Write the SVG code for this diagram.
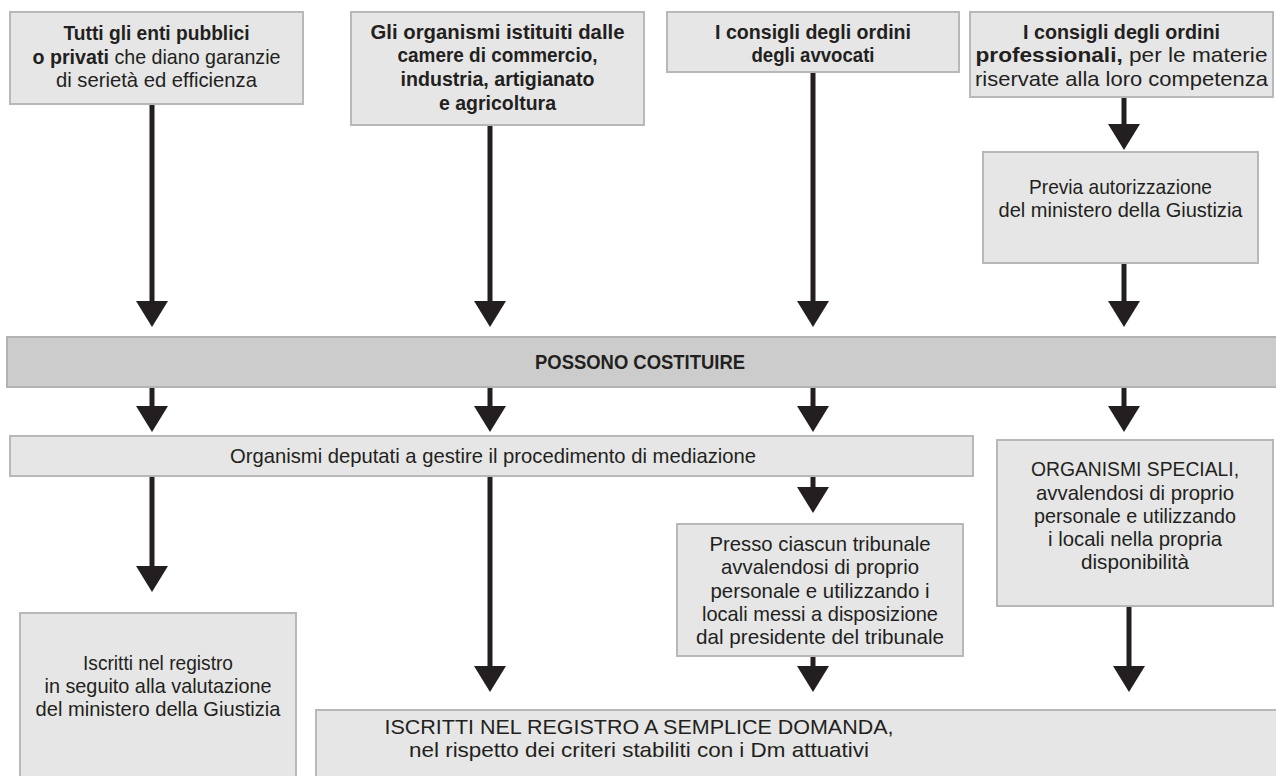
<svg xmlns="http://www.w3.org/2000/svg" width="1276" height="776" viewBox="0 0 1276 776">
<defs>
<style>
.box{fill:#e6e6e6;stroke:#b8b8b9;stroke-width:2}
.bar{fill:#cccccc;stroke:#b3b3b3;stroke-width:2}
.t{font-family:"Liberation Sans",Arial,sans-serif;font-size:21px;fill:#231f20;text-anchor:middle}
.b{font-weight:bold}
.c{stroke:#231f20;stroke-width:5;fill:none}
</style>
<marker id="ah" markerUnits="userSpaceOnUse" markerWidth="26" markerHeight="32" viewBox="0 0 26 32" refX="0" refY="16" orient="auto">
<path d="M0,0 L26,16 L0,32 Z" fill="#231f20"/>
</marker>
</defs>
<rect width="1276" height="776" fill="#ffffff"/>

<g id="connectors">
<line class="c" x1="152" y1="104" x2="152" y2="301" marker-end="url(#ah)"/>
<line class="c" x1="490" y1="125" x2="490" y2="301" marker-end="url(#ah)"/>
<line class="c" x1="813" y1="72" x2="813" y2="301" marker-end="url(#ah)"/>
<line class="c" x1="1124" y1="97" x2="1124" y2="124" marker-end="url(#ah)"/>
<line class="c" x1="1124" y1="263" x2="1124" y2="301" marker-end="url(#ah)"/>
<line class="c" x1="152" y1="387" x2="152" y2="406" marker-end="url(#ah)"/>
<line class="c" x1="490" y1="387" x2="490" y2="406" marker-end="url(#ah)"/>
<line class="c" x1="813" y1="387" x2="813" y2="406" marker-end="url(#ah)"/>
<line class="c" x1="1124" y1="387" x2="1124" y2="406" marker-end="url(#ah)"/>
<line class="c" x1="152" y1="476" x2="152" y2="566" marker-end="url(#ah)"/>
<line class="c" x1="490" y1="476" x2="490" y2="666" marker-end="url(#ah)"/>
<line class="c" x1="813" y1="476" x2="813" y2="487" marker-end="url(#ah)"/>
<line class="c" x1="813" y1="656" x2="813" y2="666" marker-end="url(#ah)"/>
<line class="c" x1="1129" y1="606" x2="1129" y2="666" marker-end="url(#ah)"/>
</g>

<g id="n-enti">
<rect class="box" x="10" y="12" width="293" height="92"/>
<text class="t b" x="156.5" y="40" textLength="186" lengthAdjust="spacingAndGlyphs">Tutti gli enti pubblici</text>
<text class="t" x="156.5" y="64" textLength="248" lengthAdjust="spacingAndGlyphs"><tspan class="b">o privati</tspan> che diano garanzie</text>
<text class="t" x="156.5" y="87" textLength="201" lengthAdjust="spacingAndGlyphs">di serietà ed efficienza</text>
</g>

<g id="n-camere">
<rect class="box" x="351" y="12" width="293" height="113"/>
<text class="t b" x="497.5" y="39" textLength="254" lengthAdjust="spacingAndGlyphs">Gli organismi istituiti dalle</text>
<text class="t b" x="497.5" y="62" textLength="200" lengthAdjust="spacingAndGlyphs">camere di commercio,</text>
<text class="t b" x="497.5" y="86" textLength="194" lengthAdjust="spacingAndGlyphs">industria, artigianato</text>
<text class="t b" x="497.5" y="110" textLength="117" lengthAdjust="spacingAndGlyphs">e agricoltura</text>
</g>

<g id="n-avvocati">
<rect class="box" x="667" y="12" width="292" height="60"/>
<text class="t b" x="813" y="39" textLength="196" lengthAdjust="spacingAndGlyphs">I consigli degli ordini</text>
<text class="t b" x="813" y="62" textLength="123" lengthAdjust="spacingAndGlyphs">degli avvocati</text>
</g>

<g id="n-professionali">
<rect class="box" x="970" y="12" width="303" height="85"/>
<text class="t b" x="1121.5" y="39" textLength="197" lengthAdjust="spacingAndGlyphs">I consigli degli ordini</text>
<text class="t" x="1121.5" y="62" textLength="292" lengthAdjust="spacingAndGlyphs"><tspan class="b">professionali,</tspan> per le materie</text>
<text class="t" x="1121.5" y="86" textLength="293" lengthAdjust="spacingAndGlyphs">riservate alla loro competenza</text>
</g>

<g id="n-previa">
<rect class="box" x="983" y="152" width="275" height="111"/>
<text class="t" x="1120.5" y="194" textLength="183" lengthAdjust="spacingAndGlyphs">Previa autorizzazione</text>
<text class="t" x="1120.5" y="217" textLength="244" lengthAdjust="spacingAndGlyphs">del ministero della Giustizia</text>
</g>

<g id="n-possono">
<rect class="bar" x="7" y="337" width="1275" height="50"/>
<text class="t b" x="640" y="369" textLength="210" lengthAdjust="spacingAndGlyphs">POSSONO COSTITUIRE</text>
</g>

<g id="n-organismi">
<rect class="box" x="10" y="436" width="963" height="40"/>
<text class="t" x="493" y="463" textLength="526" lengthAdjust="spacingAndGlyphs">Organismi deputati a gestire il procedimento di mediazione</text>
</g>

<g id="n-speciali">
<rect class="box" x="997" y="440" width="276" height="166"/>
<text class="t" x="1135" y="476" textLength="208" lengthAdjust="spacingAndGlyphs">ORGANISMI SPECIALI,</text>
<text class="t" x="1135" y="500" textLength="198" lengthAdjust="spacingAndGlyphs">avvalendosi di proprio</text>
<text class="t" x="1135" y="523" textLength="202" lengthAdjust="spacingAndGlyphs">personale e utilizzando</text>
<text class="t" x="1135" y="546" textLength="174" lengthAdjust="spacingAndGlyphs">i locali nella propria</text>
<text class="t" x="1135" y="569" textLength="108" lengthAdjust="spacingAndGlyphs">disponibilità</text>
</g>

<g id="n-presso">
<rect class="box" x="677" y="524" width="286" height="132"/>
<text class="t" x="820" y="551" textLength="221" lengthAdjust="spacingAndGlyphs">Presso ciascun tribunale</text>
<text class="t" x="820" y="574" textLength="198" lengthAdjust="spacingAndGlyphs">avvalendosi di proprio</text>
<text class="t" x="820" y="598" textLength="219" lengthAdjust="spacingAndGlyphs">personale e utilizzando i</text>
<text class="t" x="820" y="621" textLength="236" lengthAdjust="spacingAndGlyphs">locali messi a disposizione</text>
<text class="t" x="820" y="644" textLength="248" lengthAdjust="spacingAndGlyphs">dal presidente del tribunale</text>
</g>

<g id="n-iscritti">
<rect class="box" x="20" y="613" width="276" height="175"/>
<text class="t" x="158" y="670" textLength="150" lengthAdjust="spacingAndGlyphs">Iscritti nel registro</text>
<text class="t" x="158" y="693" textLength="227" lengthAdjust="spacingAndGlyphs">in seguito alla valutazione</text>
<text class="t" x="158" y="716" textLength="245" lengthAdjust="spacingAndGlyphs">del ministero della Giustizia</text>
</g>

<g id="n-domanda">
<rect class="box" x="316" y="710" width="970" height="80"/>
<text class="t" x="639" y="734" textLength="509" lengthAdjust="spacingAndGlyphs">ISCRITTI NEL REGISTRO A SEMPLICE DOMANDA,</text>
<text class="t" x="639" y="757" textLength="460" lengthAdjust="spacingAndGlyphs">nel rispetto dei criteri stabiliti con i Dm attuativi</text>
</g>
</svg>
